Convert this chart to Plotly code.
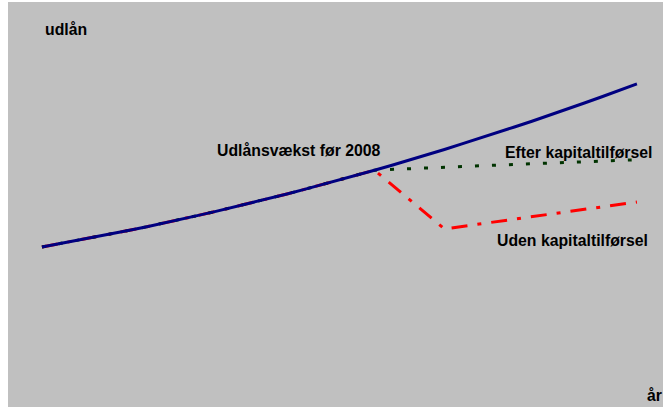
import plotly.graph_objects as go

# Lending (udlån), index 1989 = 100
years = list(range(1989, 2024))
udlaan_trend = [100.0, 102.0, 104.0, 106.1, 108.2, 110.4, 112.7, 115.0, 117.4, 119.9,
                122.4, 125.0, 127.6, 130.4, 133.1, 136.0, 138.9, 141.8, 144.9, 148.0,
                151.1, 154.3, 157.6, 160.9, 164.4, 167.8, 171.4, 175.0, 178.6, 182.3,
                186.1, 190.0, 193.9, 197.9, 201.9]

# Paths after 2008
efter_years = [2008, 2013, 2018, 2022.7]
efter_vals = [148.0, 150.3, 152.4, 154.4]
uden_years = [2008, 2012, 2023]
uden_vals = [148.0, 111.3, 128.1]

hist_years = years[:20]
hist_vals = udlaan_trend[:20]

fig = go.Figure()
fig.add_trace(go.Scatter(
    x=hist_years + uden_years[1:], y=hist_vals + uden_vals[1:],
    mode="lines", line=dict(color="#FF0000", width=3, dash="16px,10px,4px,10px"),
    hoverinfo="skip"))
fig.add_trace(go.Scatter(
    x=hist_years + efter_years[1:], y=hist_vals + efter_vals[1:],
    mode="lines", line=dict(color="#003300", width=3, dash="4px,13px"),
    hoverinfo="skip"))
fig.add_trace(go.Scatter(
    x=years, y=udlaan_trend, mode="lines", line=dict(color="#000080", width=3),
    hoverinfo="skip"))

W, H = 663, 407
L, T = 8, 2


def px(x):
    return (x - L) / (W - L)


def py(y):
    return (H - y) / (H - T)


font = dict(family="Liberation Sans, Arial, sans-serif", size=15.8, color="#000000")
labels = [
    ("<b>udlån</b>", 43, 30),
    ("<b>Udlånsvækst før 2008</b>", 215, 150.5),
    ("<b>Efter kapitaltilførsel</b>", 503, 152),
    ("<b>Uden kapitaltilførsel</b>", 495, 240),
    ("<b>år</b>", 645, 395.5),
]
annotations = [
    dict(text=t, x=px(x), y=py(y), xref="paper", yref="paper", xanchor="left",
         yanchor="middle", showarrow=False, font=font)
    for t, x, y in labels
]

fig.update_layout(
    width=W, height=H,
    margin=dict(l=L, r=0, t=T, b=0),
    paper_bgcolor="#FFFFFF", plot_bgcolor="#C0C0C0",
    showlegend=False,
    xaxis=dict(range=[1987.06, 2024.49], visible=False, fixedrange=True),
    yaxis=dict(range=[0, 253.1], visible=False, fixedrange=True),
    annotations=annotations,
)

fig.write_html("out.html", config={"displayModeBar": False})
